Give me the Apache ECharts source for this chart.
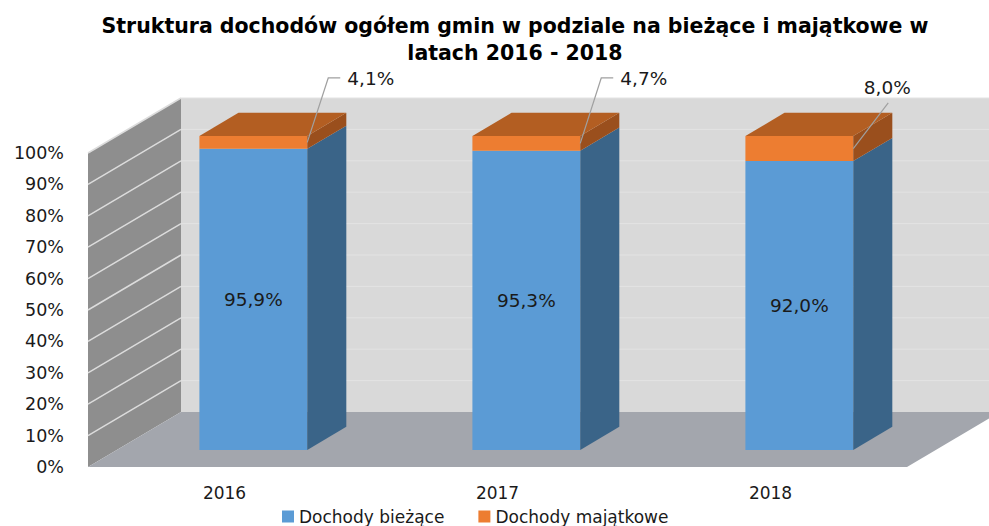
<!DOCTYPE html>
<html>
<head>
<meta charset="utf-8">
<script src="https://cdn.jsdelivr.net/npm/echarts@6/dist/echarts.min.js"></script>
<style>
	html, body { margin: 0; padding: 0; background: #fff; }
	#main { width: 989px; height: 526px; }
</style>
</head>
<body>
<div id="main"></div>
<script>
var years = ['2016', '2017', '2018'];
var biezace = [95.9, 95.3, 92.0];
var majatkowe = [4.1, 4.7, 8.0];
var seriesNames = ['Dochody bieżące', 'Dochody majątkowe'];

// pseudo 3d geometry (pixels / fractions of the depth)
var WALL_DX = 93, WALL_DY = -55;
var BAR_FRONT = 0.31, BAR_BACK = 0.73;
var BAR_RATIO = 0.395;
var FONT = 'DejaVu Sans';

var myChart = echarts.init(document.getElementById('main'), null, {renderer: 'svg'});

function fmt(v) {
	return v.toFixed(1).replace('.', ',') + '%';
}

function renderWalls(params, api) {
	var cs = params.coordSys;
	var x0 = cs.x, x1 = cs.x + cs.width;
	var y0 = api.coord([0, 0])[1];
	var y100 = api.coord([0, 100])[1];
	var kids = [];
	kids.push({type: 'polygon', shape: {points: [[x0 + WALL_DX, y100 + WALL_DY], [x1 + WALL_DX, y100 + WALL_DY], [x1 + WALL_DX, y0 + WALL_DY], [x0 + WALL_DX, y0 + WALL_DY]]}, style: {fill: '#d9d9d9'}});
	kids.push({type: 'polygon', shape: {points: [[x0, y100], [x0, y0], [x0 + WALL_DX, y0 + WALL_DY], [x0 + WALL_DX, y100 + WALL_DY]]}, style: {fill: '#8e8e8e'}});
	kids.push({type: 'polygon', shape: {points: [[x0, y0], [x1, y0], [x1 + WALL_DX, y0 + WALL_DY], [x0 + WALL_DX, y0 + WALL_DY]]}, style: {fill: '#a3a6ad'}});
	for (var v = 10; v <= 100; v += 10) {
		var y = api.coord([0, v])[1];
		kids.push({type: 'line', shape: {x1: x0, y1: y, x2: x0 + WALL_DX, y2: y + WALL_DY}, style: {stroke: '#dcdcdc', lineWidth: 1.5}});
		kids.push({type: 'line', shape: {x1: x0 + WALL_DX, y1: y + WALL_DY, x2: x1 + WALL_DX, y2: y + WALL_DY}, style: {stroke: '#e3e3e3', lineWidth: 1}});
	}
	return {type: 'group', children: kids};
}

function makeBarRenderer(front, side, top, isTop) {
	return function(params, api) {
		var idx = api.value(0), val = api.value(1), base = api.value(2);
		var c0 = api.coord([idx, base]);
		var c1 = api.coord([idx, base + val]);
		var w = api.size([1, 0])[0] * BAR_RATIO;
		var fx = WALL_DX * BAR_FRONT, fy = WALL_DY * BAR_FRONT;
		var dx = WALL_DX * (BAR_BACK - BAR_FRONT), dy = WALL_DY * (BAR_BACK - BAR_FRONT);
		var xl = c0[0] - w / 2 + fx, xr = c0[0] + w / 2 + fx;
		var yb = c0[1] + fy, yt = c1[1] + fy;
		var kids = [
			{type: 'rect', shape: {x: xl, y: yt, width: w, height: yb - yt}, style: {fill: front}},
			{type: 'polygon', shape: {points: [[xr, yb], [xr + dx, yb + dy], [xr + dx, yt + dy], [xr, yt]]}, style: {fill: side}}
		];
		if (isTop) {
			kids.push({type: 'polygon', shape: {points: [[xl, yt], [xr, yt], [xr + dx, yt + dy], [xl + dx, yt + dy]]}, style: {fill: top}});
			var ym = (yb + yt) / 2;
			if (params.dataIndex < years.length - 1) {
				kids.push({type: 'polyline', shape: {points: [[xr, ym], [xr + 21, yt - 58], [xr + 33, yt - 58]]}, style: {stroke: '#a0a0a0', lineWidth: 1.2, fill: null}});
				kids.push({type: 'text', style: {text: fmt(val), x: xr + 40, y: yt - 57, align: 'left', verticalAlign: 'middle', fill: '#1a1a1a', font: '18.5px "' + FONT + '"'}});
			} else {
				kids.push({type: 'line', shape: {x1: xr, y1: ym, x2: xr + 35, y2: yt - 33}, style: {stroke: '#a0a0a0', lineWidth: 1.2}});
				kids.push({type: 'text', style: {text: fmt(val), x: xr + 34, y: yt - 48, align: 'center', verticalAlign: 'middle', fill: '#1a1a1a', font: '18.5px "' + FONT + '"'}});
			}
		} else {
			kids.push({type: 'text', style: {text: fmt(val), x: (xl + xr) / 2, y: (yb + yt) / 2, align: 'center', verticalAlign: 'middle', fill: '#1a1a1a', font: '18.5px "' + FONT + '"'}});
		}
		return {type: 'group', children: kids};
	};
}

var blueData = [], orangeData = [];
for (var i = 0; i < years.length; ++i) {
	blueData.push([i, biezace[i], 0]);
	orangeData.push([i, majatkowe[i], biezace[i]]);
}

var option = {
	backgroundColor: '#ffffff',
	animation: false,
	title: {
		text: 'Struktura dochodów ogółem gmin w podziale na bieżące i majątkowe w\nlatach 2016 - 2018',
		left: 510,
		top: 7,
		textAlign: 'center',
		textStyle: {fontFamily: FONT, fontSize: 20.5, fontWeight: 'bold', color: '#000', lineHeight: 27}
	},
	legend: {
		data: seriesNames,
		left: 277,
		top: 503,
		icon: 'rect',
		itemWidth: 12,
		itemHeight: 12,
		itemGap: 34,
		textStyle: {fontFamily: FONT, fontSize: 17, color: '#1a1a1a'}
	},
	grid: {left: 88, right: 82, top: 153, bottom: 59},
	xAxis: {
		type: 'category',
		data: years,
		axisLine: {show: false},
		axisTick: {show: false},
		axisLabel: {fontFamily: FONT, fontSize: 17, color: '#1a1a1a', margin: 17}
	},
	yAxis: {
		type: 'value',
		min: 0,
		max: 100,
		interval: 10,
		axisLine: {show: false},
		axisTick: {show: false},
		splitLine: {show: false},
		axisLabel: {formatter: '{value}%', fontFamily: FONT, fontSize: 17.5, color: '#1a1a1a', margin: 24}
	},
	series: [
		{
			type: 'custom',
			z: 1,
			silent: true,
			renderItem: renderWalls,
			data: [[0, 0]],
			encode: {x: 0, y: 1}
		},
		{
			name: seriesNames[0],
			type: 'custom',
			z: 2,
			itemStyle: {color: '#5b9bd5'},
			renderItem: makeBarRenderer('#5b9bd5', '#3a6488', null, false),
			data: blueData,
			encode: {x: 0, y: 1}
		},
		{
			name: seriesNames[1],
			type: 'custom',
			z: 3,
			itemStyle: {color: '#ed7d31'},
			renderItem: makeBarRenderer('#ed7d31', '#9a4f1d', '#b35e22', true),
			data: orangeData,
			encode: {x: 0, y: 1}
		}
	]
};
myChart.setOption(option);
</script>
</body>
</html>
